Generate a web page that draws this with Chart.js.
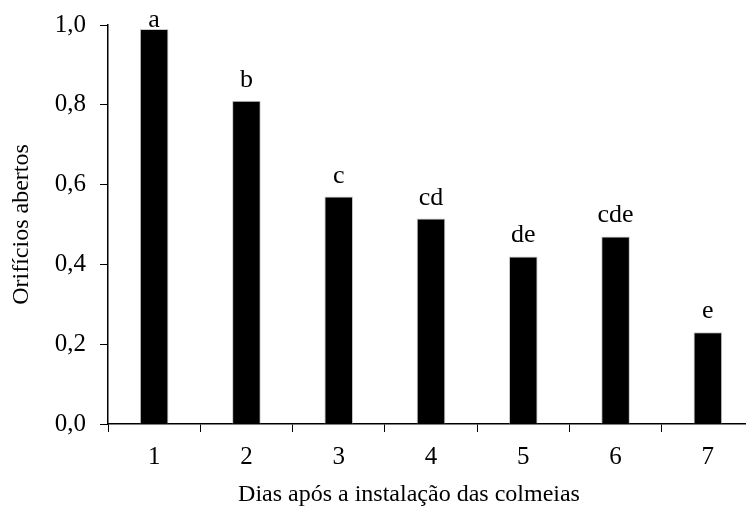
<!DOCTYPE html>
<html>
<head>
<meta charset="utf-8">
<script src="https://cdn.jsdelivr.net/npm/chart.js@4/dist/chart.umd.min.js"></script>
<style>
  html, body { margin: 0; padding: 0; background: #fff; overflow: hidden; }
  #wrap { width: 754px; height: 508px; }
</style>
</head>
<body>
<div id="wrap"><canvas id="chart" width="754" height="508"></canvas></div>
<script>
// Dados do gráfico
const dias = ["1", "2", "3", "4", "5", "6", "7"];
const orificios = [0.99, 0.81, 0.57, 0.515, 0.42, 0.47, 0.23];
const letras = ["a", "b", "c", "cd", "de", "cde", "e"];
const yTicks = [0, 0.2, 0.4, 0.6, 0.8, 1.0];
const tituloX = "Dias após a instalação das colmeias";

const serif = "'Liberation Serif', 'Times New Roman', serif";

// Plugin para escrever as letras acima das barras e o título do eixo X
const letrasPlugin = {
    id: "letras",
    afterDatasetsDraw(chart) {
        const ctx = chart.ctx;
        const meta = chart.getDatasetMeta(0);
        ctx.save();
        ctx.font = "26px " + serif;
        ctx.fillStyle = "#000";
        ctx.textAlign = "center";
        ctx.textBaseline = "alphabetic";
        meta.data.forEach((bar, i) => {
            // a letra da primeira barra fica encostada no topo, como no original
            ctx.fillText(letras[i], bar.x, Math.max(bar.y - 14, 27));
        });
        // título do eixo X, um pouco à esquerda do centro como no original
        ctx.font = "24px " + serif;
        const area = chart.chartArea;
        ctx.fillText(tituloX, (area.left + area.right) / 2 - 22, 501);
        ctx.restore();
    }
};

new Chart(document.getElementById("chart"), {
    type: "bar",
    data: {
        labels: dias,
        datasets: [{
            data: orificios,
            backgroundColor: "#000",
            borderColor: "#c8c8c8",
            borderWidth: 1,
            barPercentage: 0.31,
            categoryPercentage: 1
        }]
    },
    options: {
        responsive: false,
        animation: false,
        layout: { padding: { top: 25, left: 0, right: 0, bottom: 0 } },
        plugins: {
            legend: { display: false },
            tooltip: { enabled: false }
        },
        scales: {
            x: {
                afterFit: s => { s.height = 84; s.paddingLeft = 0; s.paddingRight = 0; },
                grid: {
                    display: true,
                    drawOnChartArea: false,
                    drawTicks: true,
                    tickLength: 8,
                    color: "#000",
                    offset: true
                },
                border: { display: true, color: "#000", width: 1.5 },
                ticks: {
                    color: "#000",
                    font: { family: serif, size: 25 },
                    padding: 10
                }
            },
            y: {
                min: 0,
                max: 1,
                afterFit: s => { s.width = 108; s.paddingTop = 0; s.paddingBottom = 0; },
                afterBuildTicks: s => { s.ticks = yTicks.map(v => ({ value: v })); },
                grid: {
                    display: true,
                    drawOnChartArea: false,
                    drawTicks: true,
                    tickLength: 8,
                    color: "#000"
                },
                border: { display: true, color: "#000", width: 1.5 },
                ticks: {
                    color: "#000",
                    font: { family: serif, size: 25 },
                    padding: 14,
                    callback: v => v.toFixed(1).replace(".", ",")
                },
                title: {
                    display: true,
                    text: "Orifícios abertos",
                    color: "#000",
                    font: { family: serif, size: 24 },
                    padding: { top: 7, bottom: 0 }
                }
            }
        }
    },
    plugins: [letrasPlugin]
});
</script>
</body>
</html>
